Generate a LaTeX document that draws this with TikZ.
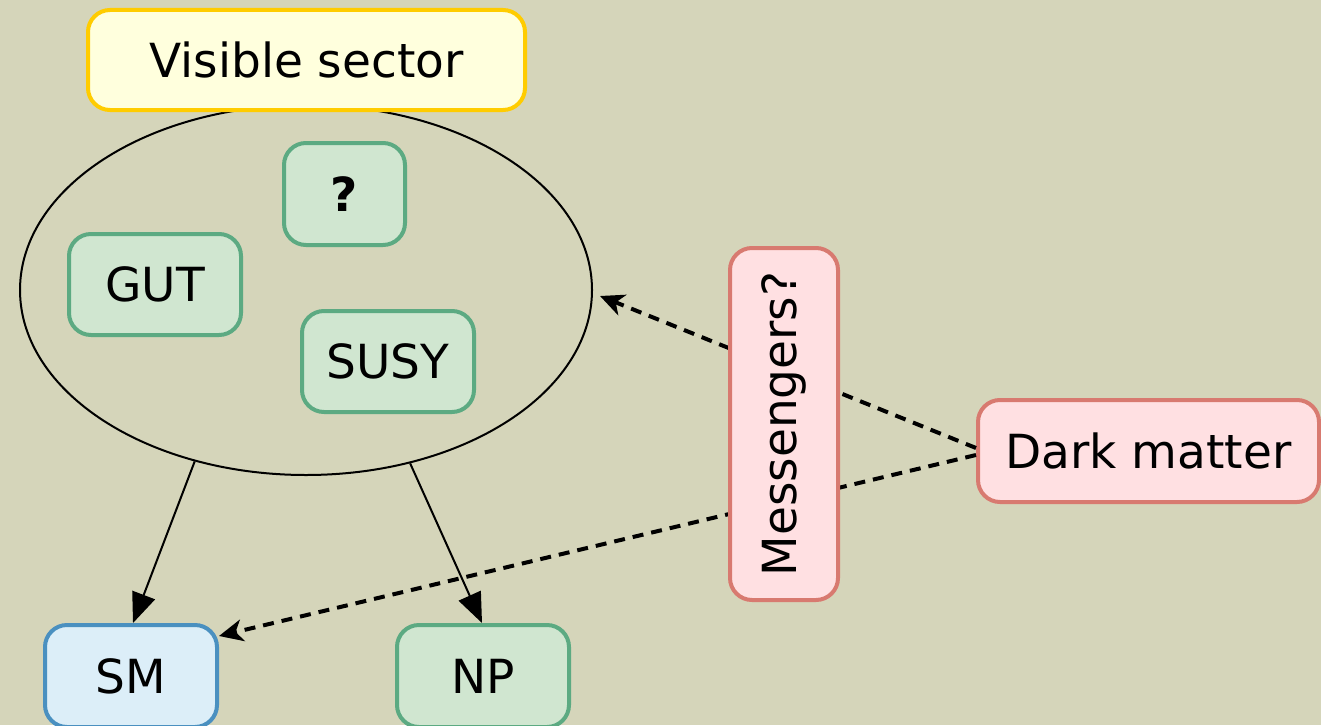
\documentclass[tikz,border=0pt]{standalone}
\usepackage{fontspec}
\setmainfont{DejaVu Sans}
\usetikzlibrary{shapes.geometric,arrows.meta}
\definecolor{bg}{RGB}{213,213,186}
\definecolor{gfill}{RGB}{208,230,208}
\definecolor{gline}{RGB}{92,170,130}
\definecolor{bfill}{RGB}{220,238,248}
\definecolor{bline}{RGB}{74,144,192}
\definecolor{pfill}{RGB}{255,224,226}
\definecolor{pline}{RGB}{216,122,112}
\definecolor{yfill}{RGB}{255,255,221}
\definecolor{yline}{RGB}{255,204,0}
\begin{document}
\begin{tikzpicture}[x=1pt,y=-1pt,
  every node/.style={font=\fontsize{47}{56}\selectfont},
  box/.style={rounded corners=22pt, line width=4pt, inner sep=0pt, align=center},
  greenbox/.style={box, fill=gfill, draw=gline},
  pinkbox/.style={box, fill=pfill, draw=pline},
  solidarrow/.style={line width=2pt, -{Triangle[length=30pt,width=24pt]}},
  dasharrow/.style={line width=4pt, dash pattern=on 11pt off 8pt, -{Stealth[length=24pt,width=22pt,inset=7pt]}}
]
\fill[bg] (0,0) rectangle (1321,725);
\useasboundingbox (0,0) rectangle (1321,725);

\node[draw, ellipse, line width=2pt, minimum width=572pt, minimum height=370pt, inner sep=0pt] (vs) at (306,290) {};
\node[box, fill=yfill, draw=yline, minimum width=437pt, minimum height=100pt] (title) at (306.5,60) {Visible sector};

\node[greenbox, minimum width=121pt, minimum height=102pt] (q) at (344.5,194) {\bfseries ?};
\node[greenbox, minimum width=172pt, minimum height=101pt] (gut) at (155,284.5) {GUT};
\node[greenbox, minimum width=172pt, minimum height=101pt] (susy) at (388,361.5) {SUSY};

\node[box, fill=bfill, draw=bline, minimum width=172pt, minimum height=102pt] (sm) at (131,676) {SM};
\node[greenbox, minimum width=172pt, minimum height=102pt] (np) at (483,676) {NP};

\node[pinkbox, minimum width=341pt, minimum height=102pt] (dm) at (1148.5,451) {Dark matter};

\coordinate (vsin) at (600,296);
\coordinate (smin) at (219,636);

\draw[solidarrow] (vs.237.8) -- (sm.north -| 133,0);
\draw[solidarrow] (vs.301.7) -- (np.north -| 482,0);

\draw[dasharrow] ([yshift=3pt]dm.west) -- (vsin);
\draw[dasharrow] ([yshift=-4pt]dm.west) -- (smin);

\node[pinkbox, rotate=90, minimum width=352pt, minimum height=108pt] (msg) at (784,424) {Messengers?};
\end{tikzpicture}
\end{document}
